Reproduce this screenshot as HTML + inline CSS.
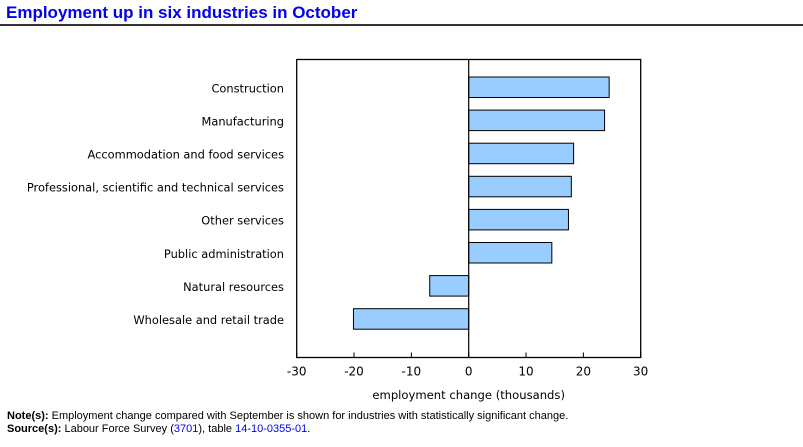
<!DOCTYPE html>
<html><head><meta charset="utf-8"><style>
body{margin:0;background:#fff;width:803px;height:442px;overflow:hidden;font-family:"Liberation Sans",sans-serif}
</style></head><body>
<svg width="803" height="442">
<text x="6" y="18" font-size="17" font-weight="bold" fill="#0000ee">Employment up in six industries in October</text>
<line x1="0" y1="25" x2="803" y2="25" stroke="#333" stroke-width="2"/>
<g id="plot"></g>
<text x="468.7" y="399" font-size="11.6" text-anchor="middle" font-family="DejaVu Sans, sans-serif">employment change (thousands)</text>
<text x="7" y="419" font-size="11"><tspan font-weight="bold">Note(s):</tspan> Employment change compared with September is shown for industries with statistically significant change.</text>
<text x="7" y="432" font-size="11"><tspan font-weight="bold">Source(s):</tspan> Labour Force Survey (<tspan fill="#0000ee">3701</tspan>), table <tspan fill="#0000ee">14-10-0355-01</tspan>.</text>
</svg>
<script>
const categories=["Construction","Manufacturing","Accommodation and food services","Professional, scientific and technical services","Other services","Public administration","Natural resources","Wholesale and retail trade"];
const values=[24.5,23.7,18.3,17.9,17.4,14.5,-6.8,-20.1];
const ticks=[-30,-20,-10,0,10,20,30];
const NS="http://www.w3.org/2000/svg";
const g=document.getElementById('plot');
const L=296.7,R=640.7,T=59.5,B=357.5,xmin=-30,xmax=30;
const x=v=>L+(v-xmin)/(xmax-xmin)*(R-L);
const y0=77,step=33.1,bh=20.5;
function mk(t,a){const e=document.createElementNS(NS,t);for(const k in a)e.setAttribute(k,a[k]);g.appendChild(e);return e;}
categories.forEach((c,i)=>{
 const v=values[i],top=y0+i*step;
 const r=mk('rect',{x:Math.min(x(0),x(v)),y:top,width:Math.abs(x(v)-x(0)),height:bh,fill:'#99ccff',stroke:'#000','stroke-width':1});
 
 
 const t=mk('text',{x:284,y:top+bh/2+5,'font-size':11.4,'text-anchor':'end','font-family':'DejaVu Sans, sans-serif'});
 t.textContent=c;
 
 
});
const fr=mk('rect',{x:L,y:T,width:R-L,height:B-T,fill:'none',stroke:'#000','stroke-width':1.3});


const zl=mk('line',{x1:x(0),x2:x(0),y1:T,y2:B,stroke:'#000','stroke-width':1.2});


ticks.forEach(v=>{
 const tk=mk('line',{x1:x(v),x2:x(v),y1:B,y2:B-5,stroke:'#000'});
 
 
 const t=mk('text',{x:x(v),y:B+18,'font-size':12,'text-anchor':'middle','font-family':'DejaVu Sans, sans-serif'});
 t.textContent=v;
 
 
});
</script>
</body></html>
